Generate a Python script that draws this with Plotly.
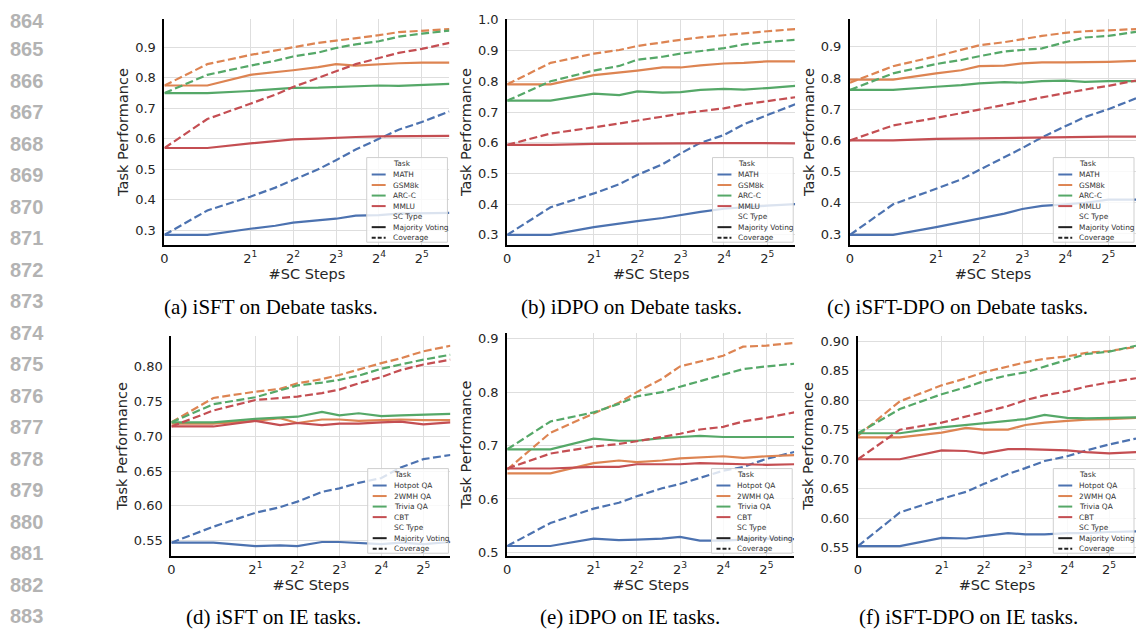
import math
import plotly.graph_objects as go

W, H = 1137, 634

# ---------------- data ----------------
STEPS = [0, 1, 2, 3, 4, 6, 8, 11, 16, 22, 32, 50]
DEBATE_TASKS = ["MATH", "GSM8k", "ARC-C", "MMLU"]
IE_TASKS = ["Hotpot QA", "2WMH QA", "Trivia QA", "CBT"]
SC_TYPES = ["Majority Voting", "Coverage"]
X_TICK_STEPS = [0, 2, 4, 8, 16, 32]
X_TICK_TEXT = ["0", "2<sup>1</sup>", "2<sup>2</sup>", "2<sup>3</sup>", "2<sup>4</sup>", "2<sup>5</sup>"]
CAPTIONS = ["(a) iSFT on Debate tasks.", "(b) iDPO on Debate tasks.", "(c) iSFT-DPO on Debate tasks.",
            "(d) iSFT on IE tasks.", "(e) iDPO on IE tasks.", "(f) iSFT-DPO on IE tasks."]
LINE_NUMBERS = list(range(864, 884))

# (a) iSFT on Debate
A_MATH_MV = [0.285, 0.285, 0.305, 0.315, 0.325, 0.333, 0.338, 0.348, 0.350, 0.355, 0.355, 0.357]
A_MATH_COV = [0.285, 0.365, 0.410, 0.440, 0.465, 0.500, 0.530, 0.565, 0.600, 0.630, 0.655, 0.690]
A_GSM_MV = [0.775, 0.775, 0.810, 0.818, 0.825, 0.835, 0.845, 0.840, 0.845, 0.848, 0.850, 0.850]
A_GSM_COV = [0.775, 0.845, 0.875, 0.890, 0.900, 0.915, 0.922, 0.930, 0.940, 0.950, 0.955, 0.960]
A_ARC_MV = [0.750, 0.750, 0.757, 0.763, 0.767, 0.768, 0.770, 0.773, 0.775, 0.774, 0.777, 0.780]
A_ARC_COV = [0.750, 0.810, 0.840, 0.856, 0.870, 0.883, 0.898, 0.910, 0.920, 0.935, 0.945, 0.955]
A_MMLU_MV = [0.570, 0.570, 0.585, 0.592, 0.598, 0.601, 0.604, 0.606, 0.608, 0.609, 0.610, 0.610]
A_MMLU_COV = [0.570, 0.665, 0.715, 0.745, 0.770, 0.800, 0.820, 0.845, 0.865, 0.882, 0.895, 0.915]

# (b) iDPO on Debate
B_MATH_MV = [0.300, 0.300, 0.325, 0.337, 0.345, 0.355, 0.365, 0.375, 0.385, 0.390, 0.395, 0.400]
B_MATH_COV = [0.300, 0.390, 0.435, 0.465, 0.495, 0.530, 0.565, 0.600, 0.625, 0.660, 0.690, 0.725]
B_GSM_MV = [0.790, 0.790, 0.820, 0.828, 0.835, 0.845, 0.845, 0.852, 0.858, 0.860, 0.865, 0.865]
B_GSM_COV = [0.790, 0.860, 0.890, 0.902, 0.915, 0.928, 0.935, 0.943, 0.950, 0.958, 0.963, 0.970]
B_ARC_MV = [0.737, 0.737, 0.760, 0.755, 0.767, 0.763, 0.765, 0.772, 0.775, 0.773, 0.778, 0.785]
B_ARC_COV = [0.737, 0.800, 0.835, 0.850, 0.870, 0.880, 0.890, 0.898, 0.908, 0.920, 0.928, 0.935]
B_MMLU_MV = [0.593, 0.593, 0.596, 0.597, 0.597, 0.598, 0.598, 0.599, 0.599, 0.599, 0.598, 0.598]
B_MMLU_COV = [0.593, 0.630, 0.650, 0.662, 0.672, 0.685, 0.695, 0.703, 0.712, 0.725, 0.735, 0.748]

# (c) iSFT-DPO on Debate
C_MATH_MV = [0.297, 0.297, 0.322, 0.337, 0.350, 0.365, 0.380, 0.390, 0.395, 0.400, 0.410, 0.410]
C_MATH_COV = [0.297, 0.395, 0.445, 0.475, 0.505, 0.545, 0.575, 0.610, 0.645, 0.675, 0.700, 0.735]
C_GSM_MV = [0.795, 0.795, 0.815, 0.825, 0.838, 0.840, 0.847, 0.850, 0.850, 0.850, 0.852, 0.855]
C_GSM_COV = [0.785, 0.838, 0.870, 0.890, 0.905, 0.915, 0.925, 0.935, 0.945, 0.950, 0.953, 0.957]
C_ARC_MV = [0.762, 0.762, 0.772, 0.777, 0.783, 0.787, 0.785, 0.790, 0.792, 0.788, 0.790, 0.790]
C_ARC_COV = [0.762, 0.815, 0.845, 0.858, 0.870, 0.885, 0.890, 0.895, 0.915, 0.930, 0.935, 0.948]
C_MMLU_MV = [0.600, 0.600, 0.605, 0.606, 0.608, 0.609, 0.610, 0.611, 0.612, 0.612, 0.612, 0.612]
C_MMLU_COV = [0.600, 0.648, 0.672, 0.687, 0.700, 0.713, 0.725, 0.738, 0.752, 0.763, 0.775, 0.792]

# (d) iSFT on IE
D_HOT_MV = [0.547, 0.547, 0.542, 0.543, 0.542, 0.548, 0.548, 0.547, 0.545, 0.547, 0.545, 0.548]
D_HOT_COV = [0.547, 0.570, 0.590, 0.598, 0.606, 0.620, 0.625, 0.633, 0.640, 0.655, 0.667, 0.673]
D_WMH_MV = [0.718, 0.718, 0.722, 0.726, 0.719, 0.724, 0.724, 0.722, 0.723, 0.724, 0.723, 0.723]
D_WMH_COV = [0.720, 0.755, 0.764, 0.768, 0.776, 0.782, 0.788, 0.796, 0.805, 0.812, 0.822, 0.830]
D_TRI_MV = [0.720, 0.720, 0.725, 0.727, 0.728, 0.735, 0.730, 0.733, 0.729, 0.730, 0.731, 0.732]
D_TRI_COV = [0.720, 0.746, 0.756, 0.766, 0.773, 0.777, 0.781, 0.787, 0.797, 0.803, 0.810, 0.817]
D_CBT_MV = [0.714, 0.714, 0.722, 0.716, 0.719, 0.716, 0.718, 0.718, 0.720, 0.721, 0.717, 0.720]
D_CBT_COV = [0.714, 0.737, 0.752, 0.755, 0.757, 0.762, 0.767, 0.776, 0.785, 0.795, 0.803, 0.810]

# (e) iDPO on IE
E_HOT_MV = [0.512, 0.512, 0.526, 0.523, 0.524, 0.526, 0.529, 0.522, 0.522, 0.524, 0.526, 0.525]
E_HOT_COV = [0.512, 0.555, 0.582, 0.593, 0.605, 0.620, 0.628, 0.640, 0.653, 0.660, 0.675, 0.688]
E_WMH_MV = [0.648, 0.648, 0.667, 0.672, 0.669, 0.672, 0.676, 0.678, 0.680, 0.677, 0.680, 0.682]
E_WMH_COV = [0.655, 0.724, 0.760, 0.780, 0.800, 0.825, 0.848, 0.857, 0.868, 0.885, 0.887, 0.892]
E_TRI_MV = [0.693, 0.693, 0.713, 0.709, 0.709, 0.714, 0.716, 0.718, 0.716, 0.716, 0.716, 0.716]
E_TRI_COV = [0.693, 0.745, 0.762, 0.778, 0.792, 0.800, 0.810, 0.820, 0.833, 0.843, 0.848, 0.853]
E_CBT_MV = [0.657, 0.657, 0.660, 0.660, 0.665, 0.665, 0.665, 0.667, 0.666, 0.665, 0.664, 0.665]
E_CBT_COV = [0.657, 0.685, 0.698, 0.703, 0.708, 0.716, 0.722, 0.730, 0.735, 0.745, 0.752, 0.762]

# (f) iSFT-DPO on IE
F_HOT_MV = [0.553, 0.553, 0.567, 0.566, 0.570, 0.575, 0.573, 0.573, 0.575, 0.575, 0.577, 0.578]
F_HOT_COV = [0.553, 0.610, 0.633, 0.645, 0.658, 0.675, 0.685, 0.697, 0.705, 0.715, 0.725, 0.735]
F_WMH_MV = [0.737, 0.737, 0.745, 0.753, 0.750, 0.750, 0.758, 0.762, 0.765, 0.767, 0.768, 0.770]
F_WMH_COV = [0.740, 0.798, 0.825, 0.837, 0.847, 0.857, 0.864, 0.870, 0.874, 0.880, 0.883, 0.890]
F_TRI_MV = [0.744, 0.744, 0.754, 0.758, 0.760, 0.765, 0.768, 0.775, 0.770, 0.769, 0.770, 0.771]
F_TRI_COV = [0.744, 0.785, 0.810, 0.822, 0.832, 0.842, 0.847, 0.857, 0.868, 0.878, 0.882, 0.892]
F_CBT_MV = [0.700, 0.700, 0.715, 0.714, 0.710, 0.717, 0.717, 0.716, 0.715, 0.712, 0.710, 0.712]
F_CBT_COV = [0.700, 0.750, 0.762, 0.772, 0.780, 0.790, 0.800, 0.808, 0.815, 0.823, 0.830, 0.837]

# ---------------- layout helpers ----------------
COLORS = ["#4C72B0", "#DD8452", "#55A868", "#C44E52"]
DASHES = ["solid", "8px,3.5px"]
FONT = "DejaVu Sans"

PANELS = [
    dict(tasks=DEBATE_TASKS, series=[(A_MATH_MV, A_MATH_COV), (A_GSM_MV, A_GSM_COV), (A_ARC_MV, A_ARC_COV), (A_MMLU_MV, A_MMLU_COV)],
         box=(161, 13, 447, 243), dt=0.1, fmt=".1f", cap=(268, 306)),
    dict(tasks=DEBATE_TASKS, series=[(B_MATH_MV, B_MATH_COV), (B_GSM_MV, B_GSM_COV), (B_ARC_MV, B_ARC_COV), (B_MMLU_MV, B_MMLU_COV)],
         box=(505, 13, 794, 243), dt=0.1, fmt=".1f", cap=(630, 306)),
    dict(tasks=DEBATE_TASKS, series=[(C_MATH_MV, C_MATH_COV), (C_GSM_MV, C_GSM_COV), (C_ARC_MV, C_ARC_COV), (C_MMLU_MV, C_MMLU_COV)],
         box=(849, 13, 1136, 243), dt=0.1, fmt=".1f", cap=(957, 306)),
    dict(tasks=IE_TASKS, series=[(D_HOT_MV, D_HOT_COV), (D_WMH_MV, D_WMH_COV), (D_TRI_MV, D_TRI_COV), (D_CBT_MV, D_CBT_COV)],
         box=(168, 335, 448, 559), dt=0.05, fmt=".2f", cap=(270, 621)),
    dict(tasks=IE_TASKS, series=[(E_HOT_MV, E_HOT_COV), (E_WMH_MV, E_WMH_COV), (E_TRI_MV, E_TRI_COV), (E_CBT_MV, E_CBT_COV)],
         box=(505, 332, 793, 559), dt=0.1, fmt=".1f", cap=(628, 621)),
    dict(tasks=IE_TASKS, series=[(F_HOT_MV, F_HOT_COV), (F_WMH_MV, F_WMH_COV), (F_TRI_MV, F_TRI_COV), (F_CBT_MV, F_CBT_COV)],
         box=(857, 335, 1136, 559), dt=0.05, fmt=".2f", cap=(968, 621)),
]


def symlog2(s):
    return s if s < 1 else 1 + math.log2(s)


def px(x):
    return x / W


def py(y):
    return 1 - y / H


XMAX = symlog2(STEPS[-1])
fig = go.Figure()
shapes, annotations = [], []

for i, p in enumerate(PANELS):
    n = i + 1
    xa = "x" if n == 1 else f"x{n}"
    ya = "y" if n == 1 else f"y{n}"
    l, t, r, b = p["box"]
    xs = [symlog2(s) for s in STEPS]
    allv = []
    for k, (mv, cov) in enumerate(p["series"]):
        for j, vals in enumerate((mv, cov)):
            allv += vals
            fig.add_trace(go.Scatter(
                x=xs, y=vals, mode="lines", xaxis=xa, yaxis=ya, showlegend=False,
                name=f"{p['tasks'][k]} - {SC_TYPES[j]}",
                line=dict(color=COLORS[k], width=2.2, dash=DASHES[j]),
            ))
    # matplotlib-style 5% autoscale margins
    span = max(allv) - min(allv)
    lo, hi = min(allv) - 0.05 * span, max(allv) + 0.05 * span
    first = math.ceil(lo / p["dt"] - 1e-9) * p["dt"]
    fig.layout[f"xaxis{'' if n == 1 else n}"] = dict(
        domain=[px(l), px(r)], anchor=ya, range=[0, XMAX],
        tickvals=[symlog2(s) for s in X_TICK_STEPS], ticktext=X_TICK_TEXT,
        showgrid=True, gridcolor="#dedede", gridwidth=1.2, zeroline=False,
        showline=True, linecolor="black", linewidth=2, ticks="",
        tickfont=dict(family=FONT, size=13, color="#262626"),
        title=dict(text="#SC Steps", font=dict(family=FONT, size=14.5, color="#262626"), standoff=0),
    )
    fig.layout[f"yaxis{'' if n == 1 else n}"] = dict(
        domain=[py(b), py(t)], anchor=xa, range=[lo, hi],
        tick0=first, dtick=p["dt"], tickformat=p["fmt"],
        showgrid=True, gridcolor="#dedede", gridwidth=1.2, zeroline=False,
        showline=True, linecolor="black", linewidth=2,
        ticks="outside", ticklen=4, tickcolor="rgba(0,0,0,0)",
        tickfont=dict(family=FONT, size=13, color="#262626"),
        title=dict(text="Task Performance", font=dict(family=FONT, size=14.5, color="#262626"), standoff=3),
    )

    # legend box (drawn manually to match compact matplotlib legend)
    bx1, by1 = r - 2, b - 3
    bx0, by0 = bx1 - 81, by1 - 86
    shapes.append(dict(type="rect", xref="paper", yref="paper", layer="above",
                       x0=px(bx0), x1=px(bx1), y0=py(by1), y1=py(by0),
                       fillcolor="rgba(255,255,255,0.8)", line=dict(color="#cfcfcf", width=1)))
    entries = [("Task", None, None)] + [(p["tasks"][k], COLORS[k], "solid") for k in range(4)] + \
              [("SC Type", None, None), (SC_TYPES[0], "#222222", "solid"), (SC_TYPES[1], "#222222", "dash")]
    for e, (label, col, dsh) in enumerate(entries):
        yy = by0 + 6.5 + e * 10.7
        if col is not None:
            shapes.append(dict(type="line", xref="paper", yref="paper", layer="above",
                               x0=px(bx0 + 5), x1=px(bx0 + 19), y0=py(yy), y1=py(yy),
                               line=dict(color=col, width=2, dash="4px,2px" if dsh == "dash" else "solid")))
        annotations.append(dict(xref="paper", yref="paper", x=px(bx0 + 24), y=py(yy),
                                xanchor="left", yanchor="middle", showarrow=False, text=label,
                                font=dict(family=FONT, size=7.4, color="#333333")))

    cx, cy = p["cap"]
    annotations.append(dict(xref="paper", yref="paper", x=px(cx), y=py(cy), xanchor="center", yanchor="middle",
                            showarrow=False, text=CAPTIONS[i],
                            font=dict(family="Liberation Serif", size=21, color="black")))

for idx, num in enumerate(LINE_NUMBERS):
    yc = 15 if idx == 0 else 44 + (idx - 1) * 32
    annotations.append(dict(xref="paper", yref="paper", x=px(4), y=py(yc), xanchor="left", yanchor="middle",
                            showarrow=False, text=f"<b>{num}</b>",
                            font=dict(family="Liberation Sans", size=20, color="#b3b3b3")))

fig.update_layout(
    width=W, height=H, margin=dict(l=0, r=0, t=0, b=0),
    paper_bgcolor="white", plot_bgcolor="white",
    showlegend=False, shapes=shapes, annotations=annotations,
)

fig.write_html("out.html", config={"displayModeBar": False},
               post_script="document.body.style.margin='0';document.body.style.padding='0';")
